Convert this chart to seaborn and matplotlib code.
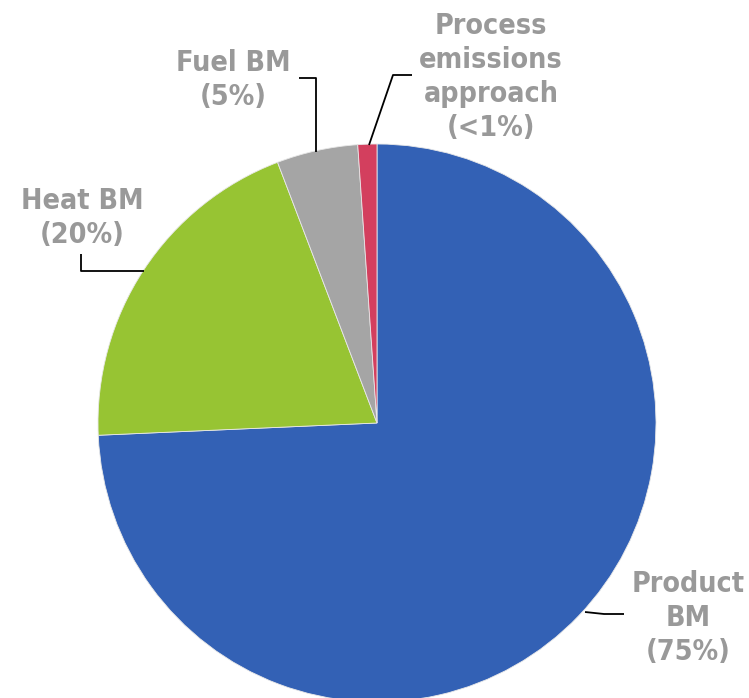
import matplotlib
matplotlib.use("Agg")
import matplotlib.pyplot as plt
import seaborn as sns

# Share of installations by allocation approach
categories = ["Product BM", "Heat BM", "Fuel BM", "Process emissions approach"]
shares = [74.3, 19.9, 4.7, 1.1]
label_texts = ["Product\nBM\n(75%)", "Heat BM\n(20%)", "Fuel BM\n(5%)", "Process\nemissions\napproach\n(<1%)"]
colors = ["#3361B5", "#97C433", "#A5A5A5", "#D33F5E"]

sns.set_style("white")
plt.rcParams["font.family"] = ["DejaVu Sans"]

W, H = 749, 698
fig = plt.figure(figsize=(W / 100, H / 100), dpi=100)
ax = fig.add_axes([0, 0, 1, 1])


def px(x, y):
    return x, H - y


ax.pie(shares, colors=colors, startangle=90, counterclock=False,
       center=px(377, 423), radius=279, frame=True,
       wedgeprops=dict(linewidth=0.6, edgecolor="#e8e8e8"))
ax.set_xlim(0, W)
ax.set_ylim(0, H)
ax.set_aspect("equal")
ax.axis("off")

label_style = dict(color="#999999", fontsize=20.5, fontweight="bold",
                   fontstretch="condensed", ha="center", va="center",
                   linespacing=1.28)
label_pos = [(688, 618), (82, 218), (233, 80), (491, 77)]
for txt, (x, y) in zip(label_texts, label_pos):
    ax.text(*px(x, y), txt, **label_style)

# leader lines from the slices to their labels
leaders = [
    [(585, 612), (604, 614), (624, 614)],
    [(144, 271), (81, 271), (81, 254)],
    [(316, 152), (316, 78), (299, 78)],
    [(369, 145), (393, 75), (412, 75)],
]
for pts in leaders:
    xs, ys = zip(*[px(x, y) for x, y in pts])
    ax.plot(xs, ys, color="black", linewidth=1.3, solid_capstyle="butt")

fig.savefig("out.png", dpi=100)
